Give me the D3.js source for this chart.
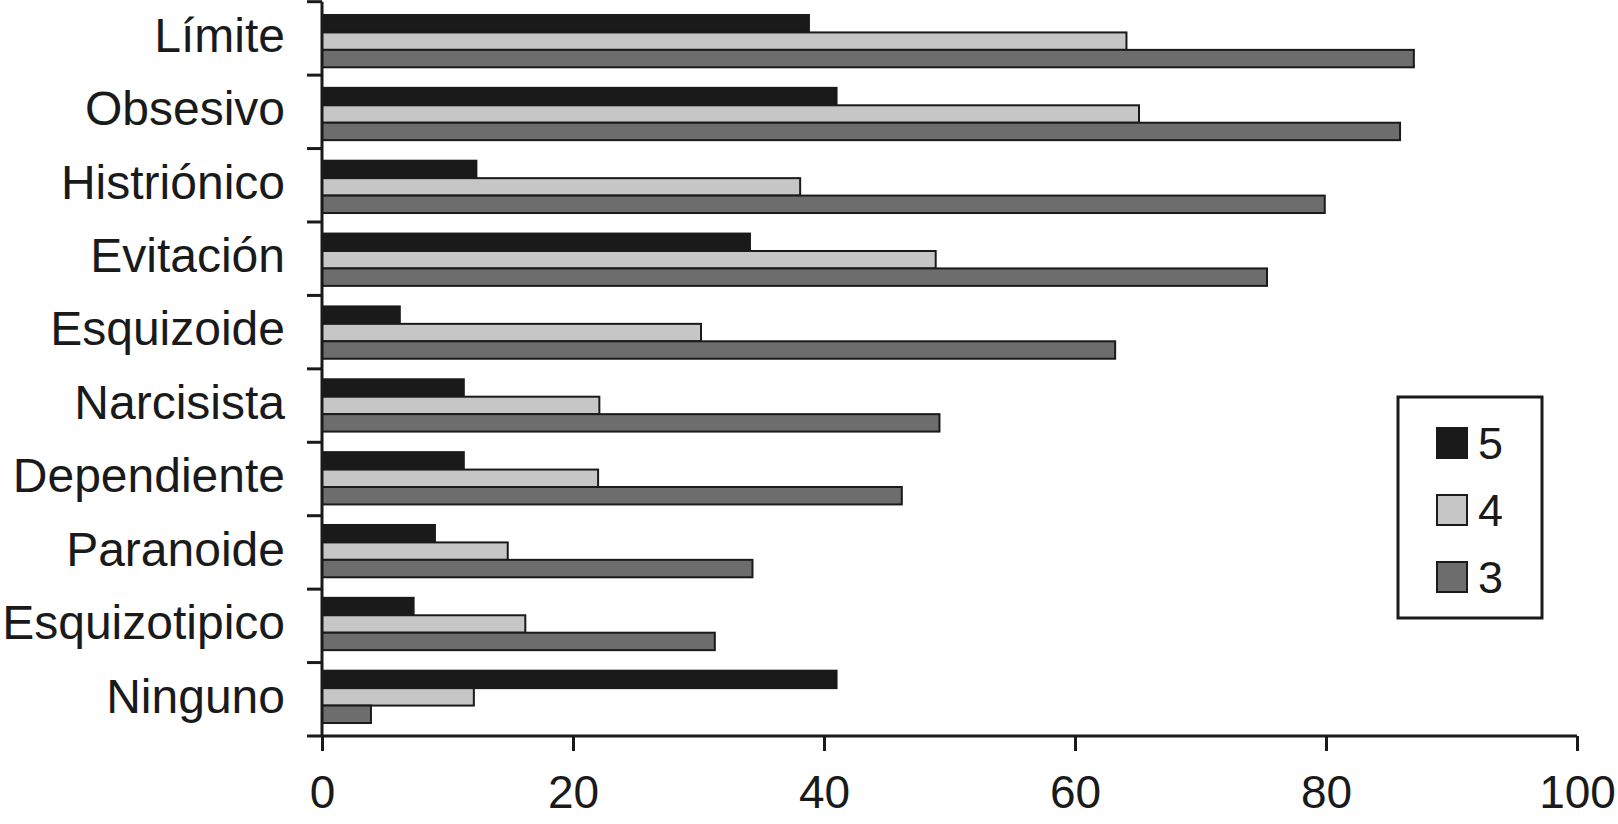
<!DOCTYPE html>
<html>
<head>
<meta charset="utf-8">
<script src="https://cdn.jsdelivr.net/npm/d3@7"></script>
<style>
  html, body { margin: 0; padding: 0; background: #ffffff; }
  svg { display: block; }
  text { font-family: "Liberation Sans", Arial, sans-serif; fill: #1a1a1a; }
</style>
</head>
<body>
<svg id="chart" width="1618" height="824"></svg>
<script>
// ---- data ----
const categories = ["Límite", "Obsesivo", "Histriónico", "Evitación", "Esquizoide",
                    "Narcisista", "Dependiente", "Paranoide", "Esquizotipico", "Ninguno"];
const seriesNames = ["5", "4", "3"];
const values5 = [38.8, 41.0, 12.3, 34.1, 6.2, 11.3, 11.3, 9.0, 7.3, 41.0];
const values4 = [64.1, 65.1, 38.1, 48.9, 30.2, 22.1, 22.0, 14.8, 16.2, 12.1];
const values3 = [87.0, 85.9, 79.9, 75.3, 63.2, 49.2, 46.2, 34.3, 31.3, 3.9];
const xTicks = [0, 20, 40, 60, 80, 100];

const seriesValues = [values5, values4, values3];
const colors = ["#1a1a1a", "#c6c6c6", "#6d6d6d"];
const ink = "#1a1a1a";

const svg = d3.select("#chart");

// scales
const x = d3.scaleLinear().domain([0, 100]).range([322, 1577]);
const yAxisBand = d3.scaleBand().domain(categories).range([1.7, 736]).padding(0);
const yBar = d3.scaleBand().domain(categories).range([15, 723]).paddingInner(0.282).paddingOuter(0);
const ySub = d3.scaleBand().domain(seriesNames).range([0, yBar.bandwidth()]).padding(0);

// bars
const rows = categories.map((c, i) => ({ cat: c, vals: seriesNames.map((s, k) => ({ s, k, v: seriesValues[k][i] })) }));
const groups = svg.append("g").selectAll("g").data(rows).join("g")
  .attr("transform", d => `translate(0,${yBar(d.cat)})`);
groups.selectAll("rect").data(d => d.vals).join("rect")
  .attr("x", x(0))
  .attr("y", d => ySub(d.s))
  .attr("width", d => x(d.v) - x(0))
  .attr("height", ySub.bandwidth())
  .attr("fill", d => colors[d.k])
  .attr("stroke", ink)
  .attr("stroke-width", 2);

// x axis
const xAxis = d3.axisBottom(x).tickValues(xTicks).tickSize(15).tickPadding(8).tickFormat(d3.format("d"));
const gx = svg.append("g").attr("transform", `translate(0,${yAxisBand.range()[1]})`).call(xAxis);
gx.select(".domain").attr("stroke", ink).attr("stroke-width", 3)
  .attr("d", `M${x(0) - 15},0H${x(100)}`);
gx.selectAll(".tick line").attr("stroke", ink).attr("stroke-width", 3);
gx.selectAll(".tick text").attr("font-size", 46).attr("fill", ink)
  .style("font-family", '"Liberation Sans", Arial, sans-serif').attr("dy", "1.06em");

// y axis (line + boundary ticks)
const gy = svg.append("g");
const [yTop, yBot] = yAxisBand.range();
gy.append("line").attr("x1", x(0)).attr("x2", x(0)).attr("y1", yTop).attr("y2", yBot)
  .attr("stroke", ink).attr("stroke-width", 3);
const boundaries = categories.map(c => yAxisBand(c));
gy.selectAll("line.tk").data(boundaries).join("line").attr("class", "tk")
  .attr("x1", x(0) - 15).attr("x2", x(0)).attr("y1", d => d).attr("y2", d => d)
  .attr("stroke", ink).attr("stroke-width", 3);
gy.selectAll("text").data(categories).join("text")
  .attr("x", x(0) - 37)
  .attr("y", d => yAxisBand(d) + yAxisBand.bandwidth() / 2 - 4)
  .attr("dy", "0.36em")
  .attr("text-anchor", "end")
  .attr("font-size", 48)
  .text(d => d);

// legend
const lg = svg.append("g");
lg.append("rect").attr("x", 1398).attr("y", 397).attr("width", 144).attr("height", 221)
  .attr("fill", "#fff").attr("stroke", ink).attr("stroke-width", 3);
const lgY = d3.scalePoint().domain(seriesNames).range([443, 577]);
const items = lg.selectAll("g.it").data(seriesNames).join("g").attr("class", "it")
  .attr("transform", d => `translate(1437,${lgY(d)})`);
items.append("rect").attr("x", 0).attr("y", -15).attr("width", 30).attr("height", 30)
  .attr("fill", (d, i) => colors[i]).attr("stroke", ink).attr("stroke-width", 2);
items.append("text").attr("x", 41).attr("y", 0).attr("dy", "0.36em").attr("font-size", 45).text(d => d);
</script>
</body>
</html>
